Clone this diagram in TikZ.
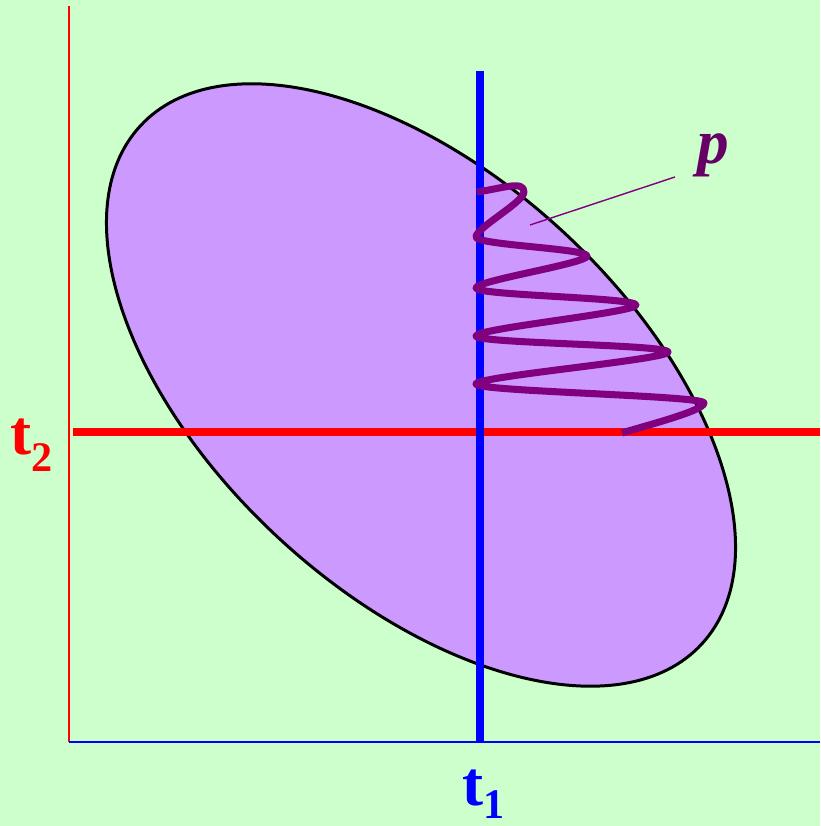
\documentclass[tikz,border=0pt]{standalone}
\usepackage{fontspec}
\setmainfont{Liberation Serif}
\definecolor{mint}{HTML}{CCFFCC}
\definecolor{lilac}{HTML}{CC99FF}
\definecolor{plum}{HTML}{800080}
\definecolor{plumdark}{HTML}{660066}

\begin{document}
\begin{tikzpicture}[line join=round]
\tikzset{axisline/.style={line width=1.1pt},
  cutline/.style={line width=4pt},
  coil/.style={plum,line width=4pt},
  lbl/.style={font=\fontsize{36}{40}\selectfont\bfseries,inner sep=0pt,anchor=base west}}

\fill[mint] (0,0) rectangle (16.4,16.52);
\useasboundingbox (0,0) rectangle (16.4,16.52);

% joint region
\draw[line width=1.7pt,fill=lilac,rotate around={-42.7:(8.42,8.82)}]
  (8.42,8.82) ellipse[x radius=7.64,y radius=4.18];

% axes
\coordinate (O) at (1.38,1.68);
\draw[red,axisline] (1.38,16.4)--(O);
\draw[blue,axisline] (O)--(16.4,1.68);

% the two cuts
\draw[red,cutline] (1.46,7.88)--(16.4,7.88);
\draw[blue,cutline] (9.6,15.1)--(9.6,1.68);

% coil
\coordinate (s0) at (9.54,12.68);
\coordinate (r1) at (10.48,12.68);
\coordinate (l1) at (9.52,11.78);
\coordinate (r2) at (11.74,11.40);
\coordinate (l2) at (9.52,10.76);
\coordinate (r3) at (12.72,10.42);
\coordinate (l3) at (9.52,9.80);
\coordinate (r4) at (13.36,9.48);
\coordinate (l4) at (9.52,8.84);
\coordinate (r5) at (14.08,8.46);
\coordinate (e0) at (12.44,7.86);
\draw[coil] (s0) .. controls +(.5,.07) and +(0,.24) .. (r1)
  .. controls +(0,-.2) and +(0,.18) .. (l1)
  .. controls +(0,-.16) and +(0,.15) .. (r2)
  .. controls +(0,-.15) and +(0,.15) .. (l2)
  .. controls +(0,-.15) and +(0,.15) .. (r3)
  .. controls +(0,-.15) and +(0,.15) .. (l3)
  .. controls +(0,-.15) and +(0,.15) .. (r4)
  .. controls +(0,-.15) and +(0,.15) .. (l4)
  .. controls +(0,-.15) and +(0,.15) .. (r5)
  .. controls +(0,-.16) and +(.4,.13) .. (e0);

% labels
\node[lbl,red] (tTwo) at (0.2,7.42) {t\raisebox{-0.34cm}{\fontsize{24}{24}\selectfont 2}};
\node[lbl,blue] (tOne) at (9.24,0.4) {t\raisebox{-0.26cm}{\fontsize{24}{24}\selectfont 1}};
\node[lbl,plumdark,font=\fontsize{36}{40}\selectfont\bfseries\itshape] (pLabel) at (13.94,13.25) {p};
\coordinate (pTip) at (13.5,12.98);
\coordinate (pEnd) at (10.6,12.02);
\draw[plum,line width=.8pt] (pTip)--(pEnd);
\end{tikzpicture}
\end{document}
